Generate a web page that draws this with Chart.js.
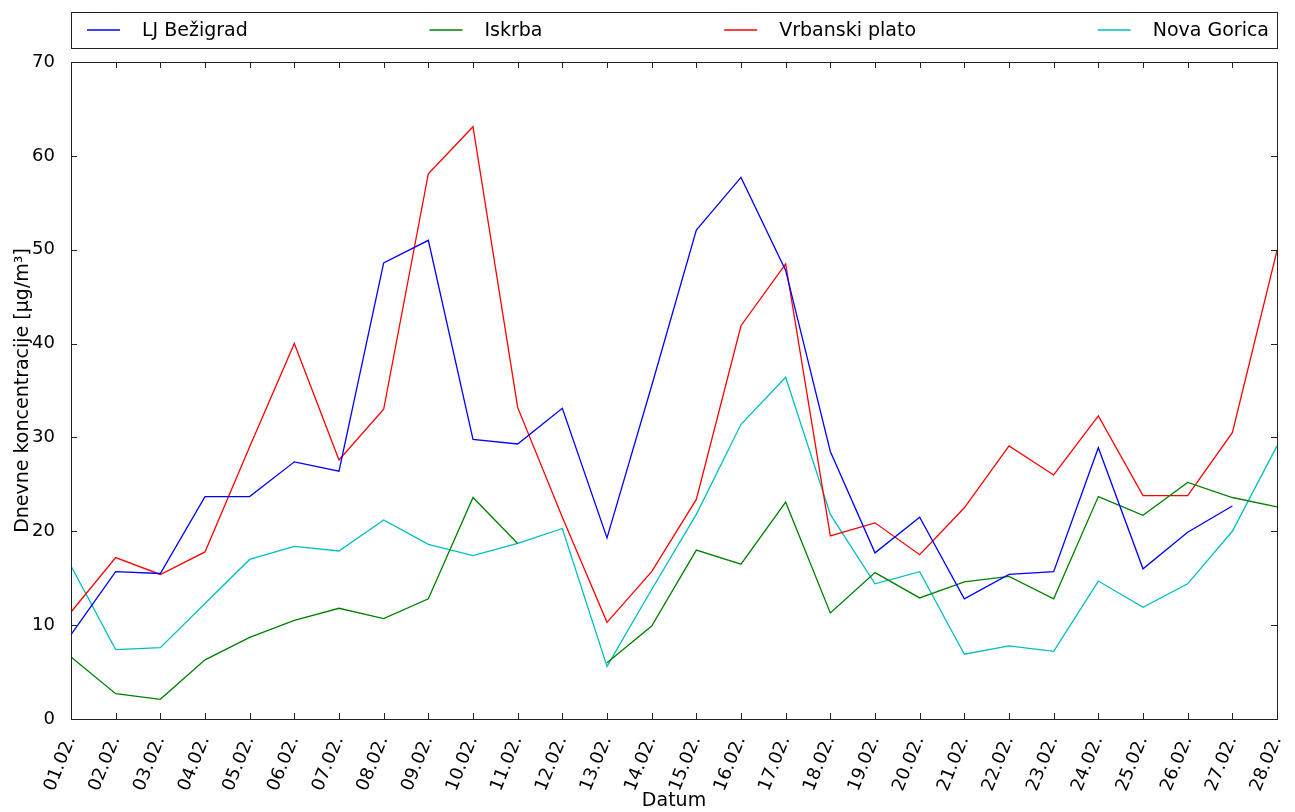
<!DOCTYPE html>
<html>
<head>
<meta charset="utf-8">
<script src="https://cdn.jsdelivr.net/npm/chart.js@4"></script>
<style>
html, body { margin: 0; padding: 0; background: #fff; }
</style>
</head>
<body>
<canvas id="chart" width="1295" height="812"></canvas>
<script>
const dates = ['01.02.', '02.02.', '03.02.', '04.02.', '05.02.', '06.02.', '07.02.', '08.02.', '09.02.', '10.02.',
    '11.02.', '12.02.', '13.02.', '14.02.', '15.02.', '16.02.', '17.02.', '18.02.', '19.02.', '20.02.',
    '21.02.', '22.02.', '23.02.', '24.02.', '25.02.', '26.02.', '27.02.', '28.02.'];

const ljBezigrad = [9.0, 15.7, 15.5, 23.7, 23.7, 27.4, 26.4, 48.6, 51.0, 29.8,
    29.3, 33.1, 19.3, 35.5, 52.1, 57.7, 47.8, 28.5, 17.7, 21.5,
    12.8, 15.4, 15.7, 28.9, 16.0, 19.9, 22.7, null];
const iskrba = [6.6, 2.7, 2.1, 6.3, 8.7, 10.5, 11.8, 10.7, 12.8, 23.6,
    18.7, null, 6.0, 9.9, 18.0, 16.5, 23.1, 11.3, 15.6, 12.9,
    14.6, 15.2, 12.8, 23.7, 21.7, 25.2, 23.6, 22.6];
const vrbanskiPlato = [11.4, 17.2, 15.4, 17.8, 29.0, 40.0, 27.6, 33.0, 58.1, 63.1,
    33.2, 21.5, 10.3, 15.7, 23.4, 41.9, 48.5, 19.5, 20.9, 17.5,
    22.5, 29.1, 26.0, 32.3, 23.8, 23.8, 30.5, 49.9];
const novaGorica = [16.3, 7.4, 7.6, 12.3, 17.0, 18.4, 17.9, 21.2, 18.6, 17.4,
    18.7, 20.3, 5.6, 13.8, 21.8, 31.4, 36.4, 21.8, 14.4, 15.7,
    6.9, 7.8, 7.2, 14.7, 11.9, 14.4, 20.0, 29.1];

const yTicks = [0, 10, 20, 30, 40, 50, 60, 70];

const font = '"DejaVu Sans", sans-serif';

// legend in a box above the plot, items spread over the full width
const boxLegend = {
    id: 'boxLegend',
    afterDraw(chart) {
        const ctx = chart.ctx;
        const a = chart.chartArea;
        const top = 12, bottom = 48, mid = (top + bottom) / 2;
        ctx.save();
        ctx.font = '19px ' + font;
        let items = chart.data.datasets.map(ds => ({
            label: ds.label,
            color: ds.borderColor,
            w: 55 + ctx.measureText(ds.label).width
        }));
        let used = items.reduce((s, it) => s + it.w, 0);
        let start = a.left + 16;
        let gap = (a.right - 8 - start - used) / (items.length - 1);
        let x = start;
        items.forEach(it => {
            ctx.strokeStyle = it.color;
            ctx.lineWidth = 1.3;
            ctx.beginPath();
            ctx.moveTo(x, mid);
            ctx.lineTo(x + 33, mid);
            ctx.stroke();
            ctx.fillStyle = '#000';
            ctx.textBaseline = 'middle';
            ctx.fillText(it.label, x + 55, mid + 1);
            x += it.w + gap;
        });
        ctx.strokeStyle = '#222';
        ctx.lineWidth = 1;
        ctx.strokeRect(a.left + 0.5, top + 0.5, a.right - a.left, bottom - top);
        ctx.restore();
    }
};

// full frame with inward ticks on all four sides
const frame = {
    id: 'frame',
    afterDatasetsDraw(chart) {
        const ctx = chart.ctx;
        const a = chart.chartArea;
        const xs = chart.scales.x, ys = chart.scales.y;
        ctx.save();
        ctx.strokeStyle = '#222';
        ctx.lineWidth = 1;
        ctx.beginPath();
        xs.ticks.forEach((t, i) => {
            let px = Math.round(xs.getPixelForTick(i)) + 0.5;
            ctx.moveTo(px, a.bottom); ctx.lineTo(px, a.bottom - 6);
            ctx.moveTo(px, a.top); ctx.lineTo(px, a.top + 6);
        });
        ys.ticks.forEach((t, i) => {
            let py = Math.round(ys.getPixelForTick(i)) + 0.5;
            ctx.moveTo(a.left, py); ctx.lineTo(a.left + 6, py);
            ctx.moveTo(a.right, py); ctx.lineTo(a.right - 6, py);
        });
        ctx.stroke();
        ctx.strokeRect(a.left + 0.5, a.top + 0.5, a.right - a.left, a.bottom - a.top);
        ctx.restore();
    }
};

function line(label, data, color) {
    return {
        label: label,
        data: data,
        borderColor: color,
        backgroundColor: color,
        borderWidth: 1.3,
        pointRadius: 0,
        tension: 0,
        fill: false,
        spanGaps: false
    };
}

new Chart(document.getElementById('chart'), {
    type: 'line',
    data: {
        labels: dates,
        datasets: [
            line('LJ Bežigrad', ljBezigrad, '#0000ff'),
            line('Iskrba', iskrba, '#008000'),
            line('Vrbanski plato', vrbanskiPlato, '#ff0000'),
            line('Nova Gorica', novaGorica, '#00bfbf')
        ]
    },
    options: {
        responsive: false,
        animation: false,
        layout: { padding: { top: 62, right: 18, left: 0, bottom: 0 } },
        plugins: {
            legend: { display: false },
            tooltip: { enabled: false }
        },
        scales: {
            x: {
                offset: false,
                grid: { display: false },
                border: { display: false },
                ticks: {
                    autoSkip: false,
                    minRotation: 68,
                    maxRotation: 68,
                    color: '#000',
                    padding: 6,
                    font: { family: font, size: 18 }
                },
                title: {
                    display: true,
                    text: 'Datum',
                    color: '#000',
                    padding: 0,
                    font: { family: font, size: 19 }
                },
                afterFit(scale) {
                    scale.height = 93;
                    scale.paddingLeft = 0;
                    scale.paddingRight = 0;
                }
            },
            y: {
                min: 0,
                max: 70,
                grid: { display: false },
                border: { display: false },
                afterBuildTicks(scale) { scale.ticks = yTicks.map(v => ({ value: v })); },
                ticks: {
                    color: '#000',
                    padding: 8,
                    font: { family: font, size: 18 }
                },
                title: {
                    display: true,
                    text: 'Dnevne koncentracije [μg/m³]',
                    color: '#000',
                    padding: { top: 12, bottom: 0 },
                    font: { family: font, size: 19 }
                },
                afterFit(scale) {
                    scale.width = 71;
                    scale.paddingTop = 0;
                    scale.paddingBottom = 0;
                }
            }
        }
    },
    plugins: [frame, boxLegend]
});
</script>
</body>
</html>
